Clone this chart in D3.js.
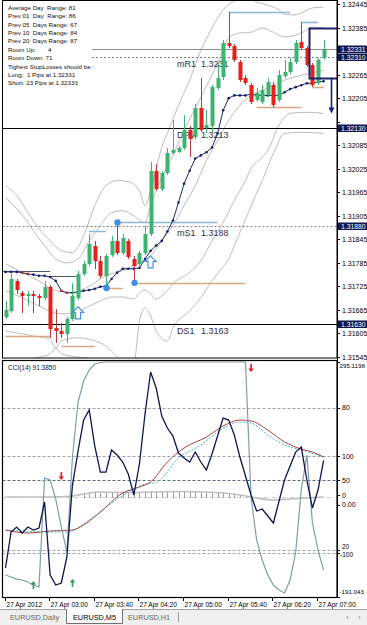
<!DOCTYPE html>
<html><head><meta charset="utf-8">
<script src="https://cdn.jsdelivr.net/npm/d3@7/dist/d3.min.js"></script>
<style>
html,body{margin:0;padding:0;background:#fff;}
svg{display:block;}
text{font-family:"Liberation Sans",Arial,sans-serif;}
</style></head>
<body>
<svg id="chart" width="367" height="625"></svg>
<script>
// ---------- DATA ----------
const timeLabels = ["27 Apr 2012","27 Apr 03:00","27 Apr 03:40","27 Apr 04:20","27 Apr 05:00","27 Apr 05:40","27 Apr 06:20","27 Apr 07:00"];
const timeLabelIdx = [0,8,16,24,32,40,48,56];

const openP = [1.31647,1.31663,1.31739,1.31709,1.31701,1.31706,1.31701,1.31696,1.31724,1.31619,
1.31611,1.31604,1.31642,1.31696,1.31757,1.31783,1.31829,1.31790,1.31752,1.31806,
1.31841,1.31811,1.31841,1.31795,1.31783,1.31811,1.31859,1.32020,1.31974,1.32015,
1.32064,1.32067,1.32077,1.32123,1.32107,1.32179,1.32130,1.32133,1.32230,1.32258,
1.32345,1.32338,1.32297,1.32256,1.32238,1.32200,1.32194,1.32212,1.32238,1.32200,
1.32261,1.32271,1.32297,1.32348,1.32332,1.32289,1.32243,1.32307];
const highP = [1.31688,1.31757,1.31744,1.31714,1.31714,1.31714,1.31706,1.31739,1.31729,1.31668,
1.31632,1.31647,1.31734,1.31765,1.31790,1.31859,1.31841,1.31803,1.31808,1.31854,
1.31888,1.31859,1.31847,1.31803,1.31816,1.31880,1.32041,1.32038,1.32020,1.32077,
1.32148,1.32084,1.32161,1.32133,1.32189,1.32256,1.32174,1.32238,1.32294,1.32353,
1.32425,1.32343,1.32302,1.32263,1.32243,1.32230,1.32238,1.32256,1.32246,1.32276,
1.32302,1.32307,1.32353,1.32399,1.32338,1.32294,1.32307,1.32353];
const lowP = [1.31642,1.31657,1.31706,1.31657,1.31675,1.31657,1.31675,1.31691,1.31594,1.31581,
1.31594,1.31581,1.31637,1.31691,1.31752,1.31778,1.31770,1.31747,1.31721,1.31801,
1.31806,1.31806,1.31795,1.31734,1.31778,1.31806,1.31854,1.31969,1.31969,1.32010,
1.32059,1.32064,1.32072,1.32054,1.32102,1.32118,1.32115,1.32118,1.32225,1.32251,
1.32332,1.32297,1.32246,1.32238,1.32189,1.32194,1.32189,1.32207,1.32182,1.32194,
1.32256,1.32266,1.32292,1.32327,1.32284,1.32233,1.32238,1.32302];
const closeP = [1.31665,1.31744,1.31716,1.31701,1.31706,1.31701,1.31696,1.31724,1.31617,1.31611,
1.31604,1.31642,1.31701,1.31757,1.31783,1.31834,1.31790,1.31752,1.31803,1.31841,
1.31811,1.31849,1.31801,1.31778,1.31811,1.31859,1.32020,1.31974,1.32013,1.32064,
1.32072,1.32077,1.32123,1.32102,1.32179,1.32123,1.32136,1.32233,1.32256,1.32345,
1.32338,1.32302,1.32251,1.32243,1.32194,1.32217,1.32225,1.32246,1.32187,1.32263,
1.32271,1.32297,1.32345,1.32332,1.32289,1.32238,1.32302,1.32331];

// envelope / band lines (bar index, price)
const uoIdx = [0,2,4,6,8,10,12,14,16,18,20,22,24,25,26,27,28,29,31,33,35,37,39,41,43,45,47,49,50,52,53,55,57];
const uoVal = [1.31982,1.31957,1.31913,1.31872,1.31841,1.31816,1.31811,1.31854,1.31931,1.31982,1.31995,1.31992,1.31969,1.31931,1.31969,1.32026,1.32079,1.32115,1.32187,1.32251,1.32327,1.32384,1.32430,1.32453,1.32463,1.32450,1.32442,1.32430,1.32419,1.32417,1.32422,1.32435,1.32437];
const uiIdx = [0,2,4,5,7,9,11,13,15,17,19,21,23,25,26,27,28,30,32,35,38,40,42,44,46,48,50,53,55,57];
const uiVal = [1.31952,1.31923,1.31888,1.31867,1.31829,1.31795,1.31785,1.31795,1.31841,1.31880,1.31913,1.31918,1.31905,1.31888,1.31931,1.31969,1.32003,1.32059,1.32123,1.32207,1.32294,1.32358,1.32371,1.32373,1.32384,1.32373,1.32361,1.32371,1.32386,1.32384];
const mbIdx = [0,3,6,9,12,15,18,21,24,26,28,30,32,34,36,38,40,42,44,46,48,50,53,57];
const mbVal = [1.31783,1.31760,1.31739,1.31714,1.31709,1.31726,1.31752,1.31765,1.31785,1.31803,1.31841,1.31880,1.31931,1.31982,1.32046,1.32097,1.32148,1.32187,1.32212,1.32225,1.32238,1.32251,1.32263,1.32276];
const liIdx = [0,3,6,9,11,14,17,19,21,23,24,25,26,27,28,29,30,33,35,37,39,41,43,44,46,47,49,51,54,57];
const liVal = [1.31714,1.31696,1.31675,1.31657,1.31655,1.31668,1.31688,1.31698,1.31698,1.31693,1.31709,1.31716,1.31706,1.31693,1.31701,1.31714,1.31732,1.31760,1.31790,1.31841,1.31888,1.31944,1.31995,1.32026,1.32054,1.32072,1.32136,1.32166,1.32169,1.32166];
const loIdx = [0,3,6,8,9,10,13,16,18,19,21,23,24,25,26,27,29,30,33,35,37,39,40,41,42,44,46,48,50,53,57];
const loVal = [1.31611,1.31604,1.31596,1.31591,1.31568,1.31586,1.31594,1.31586,1.31573,1.31560,1.31535,1.31530,1.31637,1.31670,1.31650,1.31611,1.31586,1.31619,1.31663,1.31696,1.31739,1.31775,1.31795,1.31829,1.31862,1.31931,1.31995,1.32064,1.32115,1.32118,1.32115];
const lo2Idx = [5,8,9,10,13,16];
const lo2Val = [1.31542,1.31553,1.31568,1.31553,1.31545,1.31540];

// dotted moving average (navy) and bars flagged red on it
const maNavy = [1.31762,1.31762,1.31762,1.31760,1.31757,1.31755,1.31752,1.31752,1.31749,1.31739,
1.31714,1.31709,1.31709,1.31711,1.31714,1.31716,1.31719,1.31724,1.31726,1.31744,
1.31760,1.31770,1.31770,1.31770,1.31772,1.31795,1.31816,1.31829,1.31841,1.31865,
1.31893,1.31939,1.31987,1.32020,1.32051,1.32059,1.32067,1.32079,1.32115,1.32174,
1.32205,1.32212,1.32212,1.32212,1.32215,1.32212,1.32212,1.32212,1.32212,1.32212,
1.32220,1.32228,1.32233,1.32238,1.32243,1.32243,1.32246,1.32248];
const maRedIdx = [3,4,10,11];
const stepFrom = [-0.5,8], stepTo = [8,13], stepVal = [1.31765,1.31752];

// fractal levels
const blueLvlFrom = [20,15,40,53], blueLvlTo = [38,18,51,56], blueLvlVal = [1.31888,1.31867,1.32425,1.32399];
const tanLvlFrom = [23,18,0,10,45,55], tanLvlTo = [43,21,8,16,53,57], tanLvlVal = [1.31734,1.31721,1.31599,1.31573,1.32182,1.32233];
const fractalIdx = [20,18,23], fractalVal = [1.31888,1.31721,1.31734];
const upArrowIdx = [13,26], upArrowVal = [1.31673,1.31803];

// pivots
const pivotNames = ["mR1","DPV","mS1","DS1"];
const pivotVals = [1.32310,1.32130,1.31880,1.31630];
const pivotText = ["1.3231","1.3213","1.3188","1.3163"];
const bidPrice = 1.32331;

// range box (top right)
const boxFromIdx = 54.4, boxTopP = 1.32384, boxBotP = 1.32256, arrowIdx = 58.3, arrowEndP = 1.32166;

const priceTicks = [1.32445,1.32385,1.32325,1.32265,1.32205,1.32145,1.32085,1.32025,1.31965,1.31905,1.31845,1.31785,1.31725,1.31665,1.31605,1.31545];
const priceMarks = [1.32331,1.32310,1.32130,1.31880,1.31630];

const infoLines = ["Average Day  Range: 81","Prev 01  Day  Range: 86","Prev 05  Days Range: 67","Prev 10  Days Range: 84","Prev 20  Days Range: 87","Room Up:       4","Room Down: 71","Tighest StopLosses should be :","Long:  1 Pips at 1.32331","Short: 23 Pips at 1.32333"];

// CCI window
const cciVals = [-131.1,-56.6,-46.3,-58.7,-46.3,-52.5,-48.3,5.5,-145.6,-166.3,
-162.1,-108.3,40.6,111,175.1,195.8,121.3,67.5,67.5,113,
102.7,88.2,63.4,20,84.1,187.5,274.4,241.3,183.4,158.5,
142,106.8,96.5,88.2,108.9,88.2,71.6,104.8,142,179.2,
175.1,144.1,98.5,59.2,19.9,-13.2,-9,-23.5,-38,6.5,
51,79.9,108.9,119.2,51,-7,30.3,91.385];
const slowVals = [-145.6,-149.7,-153.9,-155.9,-160.1,-166.3,-170.4,55.1,51,11.6,
-46.3,-98,98.5,212.3,255.8,278.6,291,294.1,295.12,295.12,
295.12,295.12,295.12,295.12,295.12,295.12,295.12,295.12,295.12,295.12,
295.12,295.12,295.12,295.12,295.12,295.12,295.12,295.12,295.12,295.12,
295.12,295.12,295.12,295.12,15.8,-73.2,-114.6,-145.6,-166.3,-176.6,
-182.8,-155.9,-98,30.3,102.7,-38,-93.9,-135.3];
const maRedIdxC = [0,4,8,12,14,17,21,24,26,29,32,36,39,42,44,47,50,53,55,57];
const maRedValC = [-52.5,-58.7,-54.5,-52.5,-42.1,-15.3,24.1,36.5,46.8,88.2,117.2,139.9,162.7,175.1,173.1,154.4,129.6,115.1,108.9,98.5];
const sigIdx = [0,8,11,15,19,22,25,27,31,35,38,42,44,47,50,53,57];
const sigVal = [-52.5,-56.6,-56.6,-31.8,3.4,26.1,42.7,46,96.5,123.4,150.3,171,168.9,144.1,123.4,113,98.5];
const zeroIdx = [0,8,12,14,17,22,26,32,36,39,42,45,48,51,54,57];
const zeroVal = [15.8,15.8,17.9,22,26.1,25,26.1,27.1,26.1,24.1,20,13.7,9.6,11.7,13.7,15.8];
const histFrom = 14;
const histVals = [22,23,24,25,26,26,26,25,25,25,25,26,26,26,27,27,27,27,27,26,26,26,25,25,24,24,22,21,20];
const cciLevels = [200,100,50,15.8,-93,-100];
const cciLabels = ["295.1198","80","100","50","0","0.00","20","-100","-191.043"];
const cciLabelVals = [295.1198,200,100,50,19.9,0,-93,-100,-191.043];
const sigDownIdx = [10,44], sigDownVal = [59.2,282.7];
const sigUpIdx = [5,12], sigUpVal = [-166.3,-162.1];
const tabs = ["EURUSD,Daily","EURUSD,M5","EURUSD,H1"];

// ---------- DRAW ----------
const svg = d3.select("#chart");
const PL = 2.5, PR = 337, MT = 0, MBt = 358, CT = 360, CB = 597;
const x = d3.scaleLinear().domain([0,57]).range([5.5,323.6]);
const y = d3.scaleLinear().domain([1.31545,1.32445]).range([357,4]);
const yc = d3.scaleLinear().domain([-191.043,295.1198]).range([597,362]);
const R = v => Math.round(v) + 0.5;

svg.append("rect").attr("width",367).attr("height",625).attr("fill","#fff");
const defs = svg.append("defs");
defs.append("clipPath").attr("id","cm").append("rect").attr("x",PL).attr("y",MT).attr("width",PR-PL).attr("height",MBt-MT);
defs.append("clipPath").attr("id","cc").append("rect").attr("x",PL).attr("y",CT).attr("width",PR-PL).attr("height",CB-CT);
const gm = svg.append("g").attr("clip-path","url(#cm)");
const gc = svg.append("g").attr("clip-path","url(#cc)");

// bands
const bl = d3.line().x(d=>x(d[0])).y(d=>y(d[1])).curve(d3.curveMonotoneX);
[[uoIdx,uoVal],[uiIdx,uiVal],[mbIdx,mbVal],[liIdx,liVal],[loIdx,loVal],[lo2Idx,lo2Val]].forEach(b=>{
  gm.append("path").attr("d",bl(b[0].map((v,k)=>[v,b[1][k]])))
    .attr("fill","none").attr("stroke","#b4b4b4").attr("stroke-width",0.9);
});

// pivot / bid lines
pivotVals.forEach((p,k)=>{
  const solid = pivotNames[k].startsWith("D");
  gm.append("line").attr("x1", k===0 ? 92 : PL).attr("x2",PR).attr("y1",R(y(p))).attr("y2",R(y(p)))
    .attr("stroke", solid ? "#000" : "#808080").attr("stroke-width",1)
    .attr("stroke-dasharray", solid ? null : "2,2");
  gm.append("text").attr("x",177).attr("y",Math.round(y(p))+10).attr("font-size",9).attr("fill","#30304a").text(pivotNames[k]);
  gm.append("text").attr("x",201).attr("y",Math.round(y(p))+10).attr("font-size",9).attr("fill","#30304a").text(pivotText[k]);
});
gm.append("line").attr("x1",92).attr("x2",PR).attr("y1",R(y(bidPrice))).attr("y2",R(y(bidPrice)))
  .attr("stroke","#8c8c8c").attr("stroke-width",1);

// step lines (slate)
stepVal.forEach((p,k)=>{
  gm.append("line").attr("x1",x(stepFrom[k])).attr("x2",x(stepTo[k])).attr("y1",R(y(p))).attr("y2",R(y(p)))
    .attr("stroke","#4a5a70").attr("stroke-width",1);
});

// fractal level segments
blueLvlVal.forEach((p,k)=>{
  gm.append("line").attr("x1",x(blueLvlFrom[k])).attr("x2",x(blueLvlTo[k])).attr("y1",R(y(p))).attr("y2",R(y(p)))
    .attr("stroke","#8ab8d6").attr("stroke-width",1.6);
});
tanLvlVal.forEach((p,k)=>{
  gm.append("line").attr("x1",x(tanLvlFrom[k])).attr("x2",x(tanLvlTo[k])).attr("y1",R(y(p))).attr("y2",R(y(p)))
    .attr("stroke","#d9a882").attr("stroke-width",1.6);
});

// navy MA with dots
gm.append("path").attr("d",d3.line().x((d,i)=>x(i)).y(d=>y(d))(maNavy))
  .attr("fill","none").attr("stroke","#1b2a6b").attr("stroke-width",1);
gm.selectAll(".mad").data(maNavy).join("circle").attr("cx",(d,i)=>x(i)).attr("cy",d=>y(d)).attr("r",1.3)
  .attr("fill",(d,i)=>maRedIdx.includes(i) ? "#b02828" : "#14206a");

// candles
const candles = openP.map((o,i)=>({i,o,h:highP[i],l:lowP[i],c:closeP[i]}));
const up = "#3cb371", dn = "#e5201d";
gm.selectAll(".wick").data(candles).join("line")
  .attr("x1",d=>Math.round(x(d.i))+0.5).attr("x2",d=>Math.round(x(d.i))+0.5)
  .attr("y1",d=>Math.round(y(d.h))).attr("y2",d=>Math.round(y(d.l)))
  .attr("stroke",d=>d.c>=d.o ? up : "#b83a3a").attr("stroke-width",1);
gm.selectAll(".body").data(candles).join("rect")
  .attr("x",d=>Math.round(x(d.i))-1.5).attr("width",4)
  .attr("y",d=>Math.round(y(Math.max(d.o,d.c))))
  .attr("height",d=>Math.max(1,Math.round(y(Math.min(d.o,d.c)))-Math.round(y(Math.max(d.o,d.c)))))
  .attr("fill",d=>d.c>=d.o ? up : dn);

// fractal dots
fractalIdx.forEach((i,k)=>{
  gm.append("circle").attr("cx",Math.round(x(i))+0.5).attr("cy",y(fractalVal[k])).attr("r",3.2).attr("fill","#3d8fe0");
});
// hollow up arrows
upArrowIdx.forEach((i,k)=>{
  const cx = x(i), ty = y(upArrowVal[k]);
  gm.append("path").attr("d",`M${cx},${ty} l5.5,5.5 h-3 v6.5 h-5 v-6.5 h-3 z`)
    .attr("fill","#fff").attr("stroke","#4a8fd8").attr("stroke-width",1.2);
});

// info box
const info = svg.append("g");
infoLines.forEach((t,k)=>{
  info.append("text").attr("x",8).attr("y",9.8+k*8.4).attr("font-size",6.2).attr("fill","#101020")
    .attr("xml:space","preserve").style("white-space","pre").text(t);
});

// range box
svg.append("path").attr("d",`M${PR+1},${R(y(boxTopP))} H${Math.round(x(boxFromIdx))+0.5} V${R(y(boxBotP))} H${PR+1}`)
  .attr("fill","none").attr("stroke","#1c2170").attr("stroke-width",2);
const ax = Math.round(x(arrowIdx))+0.5, ay1 = y(boxBotP), ay2 = y(arrowEndP);
svg.append("line").attr("x1",ax).attr("x2",ax).attr("y1",ay1).attr("y2",ay2-5).attr("stroke","#1c2170").attr("stroke-width",1.6);
svg.append("path").attr("d",`M${ax-3},${ay2-6} L${ax+3},${ay2-6} L${ax},${ay2} Z`).attr("fill","#1c2170");

// ---- CCI window ----
cciLevels.forEach((v,k)=>{
  const yy = R(yc(v));
  const isZero = Math.abs(v-15.8)<0.01;
  gc.append("line").attr("x1",PL).attr("x2",PR).attr("y1",yy).attr("y2",yy)
    .attr("stroke", v===50 ? "#5a6a7a" : (isZero ? "#c8c8c8" : "#9aa4ae"))
    .attr("stroke-width",1).attr("stroke-dasharray", isZero ? "4,2,1,2" : "3,2");
});
// histogram ticks around zero line
histVals.forEach((v,k)=>{
  const xx = Math.round(x(histFrom+k))+0.5;
  gc.append("line").attr("x1",xx).attr("x2",xx).attr("y1",yc(v)).attr("y2",yc(15.8)+1)
    .attr("stroke","#9a9a9a").attr("stroke-width",1);
});
const lc = d3.line().x(d=>x(d[0])).y(d=>yc(d[1]));
const lcs = d3.line().x(d=>x(d[0])).y(d=>yc(d[1])).curve(d3.curveMonotoneX);
gc.append("path").attr("d",lcs(zeroIdx.map((v,k)=>[v,zeroVal[k]]))).attr("fill","none").attr("stroke","#c0c0c0").attr("stroke-width",1.6);
gc.append("path").attr("d",lcs(sigIdx.map((v,k)=>[v,sigVal[k]]))).attr("fill","none").attr("stroke","#3fb4c4").attr("stroke-width",1).attr("stroke-dasharray","2,1.5");
gc.append("path").attr("d",lcs(maRedIdxC.map((v,k)=>[v,maRedValC[k]]))).attr("fill","none").attr("stroke","#a3453c").attr("stroke-width",1);
gc.append("path").attr("d",lc(slowVals.map((v,i)=>[i,v]))).attr("fill","none").attr("stroke","#7f9cab").attr("stroke-width",1.2);
gc.append("path").attr("d",lc(cciVals.map((v,i)=>[i,v]))).attr("fill","none").attr("stroke","#0e1450").attr("stroke-width",1.3);
// signal arrows
sigDownIdx.forEach((i,k)=>{
  const cx = x(i), cy = yc(sigDownVal[k]);
  gc.append("path").attr("d",`M${cx-0.8},${cy-4} V${cy+0.5} H${cx-2.8} L${cx},${cy+4} L${cx+2.8},${cy+0.5} H${cx+0.8} V${cy-4} Z`).attr("fill","#e02020");
});
sigUpIdx.forEach((i,k)=>{
  const cx = x(i), cy = yc(sigUpVal[k]);
  gc.append("path").attr("d",`M${cx-0.8},${cy+4} V${cy-0.5} H${cx-2.8} L${cx},${cy-4} L${cx+2.8},${cy-0.5} H${cx+0.8} V${cy+4} Z`).attr("fill","#2e9a5a");
});
svg.append("text").attr("x",8).attr("y",370).attr("font-size",6.5).attr("fill","#101030").text("CCI(14) 91.3850");

// frames
svg.append("rect").attr("x",PL).attr("y",0.5).attr("width",PR-PL).attr("height",MBt-0.5).attr("fill","none").attr("stroke","#000").attr("stroke-width",1);
svg.append("rect").attr("x",PL).attr("y",CT+0.5).attr("width",PR-PL).attr("height",CB-CT).attr("fill","none").attr("stroke","#000").attr("stroke-width",1.2);
svg.append("line").attr("x1",PR+0.5).attr("x2",PR+0.5).attr("y1",0).attr("y2",CB+1).attr("stroke","#000");

// price axis (plain ticks hidden where a marked price label sits)
priceTicks.forEach(p=>{
  const yy = Math.round(y(p));
  svg.append("line").attr("x1",PR).attr("x2",PR+3).attr("y1",yy+0.5).attr("y2",yy+0.5).attr("stroke","#000");
  if (priceMarks.some(m=>Math.abs(y(m)-y(p))<7)) return;
  svg.append("text").attr("x",342).attr("y",yy+2.5).attr("font-size",7).attr("fill","#000").text(p.toFixed(5));
});
priceMarks.forEach(p=>{
  const yy = Math.round(y(p));
  svg.append("rect").attr("x",338).attr("y",yy-3.5).attr("width",29).attr("height",7.5).attr("fill","#0f1650");
  svg.append("text").attr("x",341).attr("y",yy+2.5).attr("font-size",6.8).attr("fill","#fff").text(p.toFixed(5));
});
// cci axis
cciLabels.forEach((t,k)=>{
  let yy = yc(cciLabelVals[k]) + 2.5, fs = 7, xx = 342;
  if (k===0) { yy = 368; fs = 6.2; xx = 339.5; }
  if (k===cciLabels.length-1) { yy = 594; fs = 6.2; xx = 339.5; }
  if (t==="20") { yy = yc(cciLabelVals[k]) - 0.5; fs = 6.5; }
  if (t==="-100") { yy = yc(cciLabelVals[k]) + 4.5; fs = 6.5; xx = 340; }
  svg.append("line").attr("x1",PR).attr("x2",PR+3).attr("y1",R(yc(cciLabelVals[k]))).attr("y2",R(yc(cciLabelVals[k]))).attr("stroke","#000");
  svg.append("text").attr("x",xx).attr("y",yy).attr("font-size",fs).attr("fill","#000").text(t);
});

// time axis
timeLabelIdx.forEach((i,k)=>{
  const xx = Math.round(x(i)) - 0.5;
  svg.append("line").attr("x1",xx).attr("x2",xx).attr("y1",CB+1).attr("y2",CB+4).attr("stroke","#000");
  svg.append("text").attr("x",xx+1).attr("y",607).attr("font-size",6.6).attr("fill","#000").text(timeLabels[k]);
});

// tabs
svg.append("rect").attr("x",0).attr("y",609).attr("width",367).attr("height",16).attr("fill","#efefef");
svg.append("line").attr("x1",0).attr("x2",367).attr("y1",609.5).attr("y2",609.5).attr("stroke","#a0a0a0");
svg.append("path").attr("d","M66.5,609 V623.5 H122.5 V609").attr("fill","#fff").attr("stroke","#707070");
const tabX = [10,73,128];
tabs.forEach((t,k)=>{
  svg.append("text").attr("x",tabX[k]).attr("y",620).attr("font-size",7.3).attr("fill", k===1 ? "#000" : "#666").text(t);
});
svg.append("line").attr("x1",178.5).attr("x2",178.5).attr("y1",612).attr("y2",622).attr("stroke","#999");
svg.append("text").attr("x",346).attr("y",620).attr("font-size",8).attr("fill","#888").text("‹");
svg.append("text").attr("x",358).attr("y",620).attr("font-size",8).attr("fill","#888").text("›");
</script>
</body></html>
